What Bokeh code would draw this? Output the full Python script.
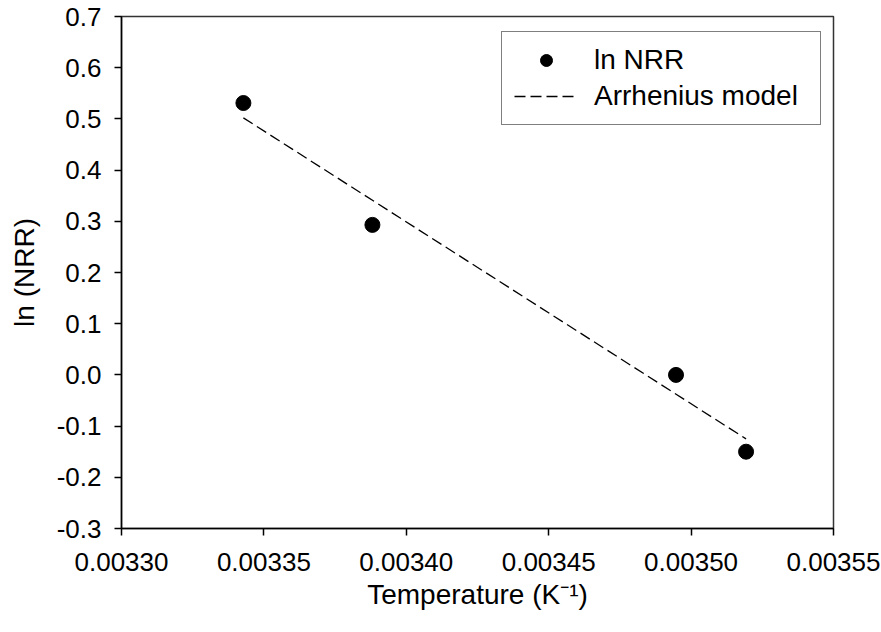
from bokeh.plotting import figure
from bokeh.models import FixedTicker, PrintfTickFormatter, Legend, LegendItem, Range1d
from bokeh.embed import file_html
from bokeh.resources import INLINE

# Data (inverse temperature, K^-1) and ln(NRR)
inv_temp = [0.0033428, 0.0033881, 0.0034947, 0.0035193]
ln_nrr = [0.531, 0.293, 0.0, -0.15]

# Arrhenius model line endpoints
model_x = [0.0033428, 0.0035193]
model_y = [0.502, -0.125]

x_ticks = [0.00330, 0.00335, 0.00340, 0.00345, 0.00350, 0.00355]
y_ticks = [-0.3, -0.2, -0.1, 0.0, 0.1, 0.2, 0.3, 0.4, 0.5, 0.6, 0.7]

FONT = "Liberation Sans"

p = figure(width=881, height=632, output_backend="svg", toolbar_location=None,
           x_range=Range1d(0.00330, 0.00355), y_range=Range1d(-0.3, 0.7),
           min_border_left=121, min_border_right=48, min_border_top=16, min_border_bottom=104)

p.outline_line_color = "#333333"
p.outline_line_width = 1.5
p.xgrid.visible = False
p.ygrid.visible = False
p.background_fill_color = "white"
p.border_fill_color = "white"

for ax in (p.xaxis[0], p.yaxis[0]):
    ax.axis_line_color = "black"
    ax.axis_line_width = 1.5
    ax.major_tick_line_color = "black"
    ax.major_tick_line_width = 1.5
    ax.major_tick_in = 0
    ax.major_tick_out = 7
    ax.minor_tick_line_color = None
    ax.major_label_text_font = FONT
    ax.major_label_text_font_size = "26px"
    ax.major_label_text_color = "black"
    ax.axis_label_text_font = FONT
    ax.axis_label_text_font_size = "28px"
    ax.axis_label_text_font_style = "normal"
    ax.axis_label_text_color = "black"

p.xaxis.ticker = FixedTicker(ticks=x_ticks)
p.yaxis.ticker = FixedTicker(ticks=y_ticks)
p.xaxis.formatter = PrintfTickFormatter(format="%.5f")
p.yaxis.formatter = PrintfTickFormatter(format="%.1f")
p.xaxis.major_label_standoff = 17
p.yaxis.major_label_standoff = 13
p.xaxis.axis_label = "Temperature (K\u207b\u00b9)"
p.yaxis.axis_label = "ln (NRR)"
p.xaxis.axis_label_standoff = 5
p.yaxis.axis_label_standoff = 14

line_r = p.line(model_x, model_y, line_color="black", line_width=1.3, line_dash="11 5")
pts_r = p.scatter(inv_temp, ln_nrr, size=15, marker="circle", fill_color="black", line_color="black")

legend = Legend(items=[LegendItem(label="ln NRR", renderers=[pts_r]),
                       LegendItem(label="Arrhenius model", renderers=[line_r])],
                location=(380, 403))
legend.label_text_font = FONT
legend.label_text_font_size = "28px"
legend.label_text_color = "black"
legend.border_line_color = "black"
legend.border_line_width = 1.5
legend.background_fill_color = "white"
legend.background_fill_alpha = 1.0
legend.glyph_width = 64
legend.glyph_height = 30
legend.label_height = 30
legend.label_width = 214
legend.label_standoff = 16
legend.padding = 12
legend.spacing = 4
legend.margin = 0
p.add_layout(legend, "center")

open("out.html", "w").write(file_html(p, INLINE))
